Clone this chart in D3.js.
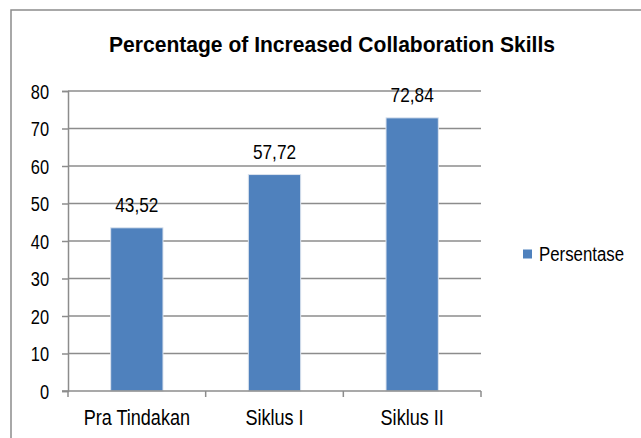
<!DOCTYPE html>
<html>
<head>
<meta charset="utf-8">
<script src="https://cdn.jsdelivr.net/npm/d3@7"></script>
<style>
  body { margin: 0; background: #fff; }
  svg text { font-family: "Liberation Sans Narrow", "Arial Narrow", "Liberation Sans", Arial, sans-serif; fill: #000; }
</style>
</head>
<body>
<div id="chart"></div>
<script>
var width = 641,
    height = 438;

var categories = ["Pra Tindakan", "Siklus I", "Siklus II"];
var values = [43.52, 57.72, 72.84];
var valueLabels = ["43,52", "57,72", "72,84"];
var yTicks = [0, 10, 20, 30, 40, 50, 60, 70, 80];
var seriesName = "Persentase";
var title = "Percentage of Increased Collaboration Skills";

var plot = {left: 68, right: 481, top: 91, bottom: 391};
var narrow = 0.82; // squeeze regular sans into an "Arial Narrow" look

// squeeze text horizontally
function condense(sel, k) {
  sel.each(function() {
    var len = this.getComputedTextLength();
    d3.select(this)
      .attr("textLength", len * k)
      .attr("lengthAdjust", "spacingAndGlyphs");
  });
}

var svg = d3.select("#chart").append("svg")
    .attr("width", width)
    .attr("height", height);

// outer chart frame (cut off at right and bottom)
svg.append("rect")
    .attr("x", 11)
    .attr("y", 10)
    .attr("width", width + 20)
    .attr("height", height + 20)
    .attr("fill", "none")
    .attr("stroke", "#8c8c8c")
    .attr("stroke-width", 1.5);

svg.append("text")
    .attr("x", 332)
    .attr("y", 52)
    .attr("text-anchor", "middle")
    .style("font-size", "22px")
    .style("font-weight", "bold")
    .attr("textLength", 446)
    .attr("lengthAdjust", "spacingAndGlyphs")
    .text(title);

var x = d3.scaleBand()
    .domain(categories)
    .range([plot.left, plot.right])
    .paddingInner(0.62)
    .paddingOuter(0.31);

var y = d3.scaleLinear()
    .domain([0, 80])
    .range([plot.bottom, plot.top]);

// gridlines
svg.selectAll("line.grid")
    .data(yTicks.filter(function(d) { return d > 0; }))
  .enter().append("line")
    .attr("class", "grid")
    .attr("x1", plot.left)
    .attr("x2", plot.right)
    .attr("y1", function(d) { return y(d); })
    .attr("y2", function(d) { return y(d); })
    .attr("stroke", "#8c8c8c")
    .attr("stroke-width", 1.5);

// y axis
var yAxis = svg.append("g")
    .attr("transform", "translate(" + plot.left + ",0)")
    .call(d3.axisLeft(y).tickValues(yTicks).tickSize(6).tickPadding(13));
yAxis.selectAll("text")
    .style("font-size", "20px")
    .attr("dy", "0.36em")
    .call(condense, narrow);
yAxis.selectAll("line, path").attr("stroke", "#8c8c8c").attr("stroke-width", 1.5);

// bars with slight light edge
svg.selectAll("rect.bar")
    .data(values)
  .enter().append("rect")
    .attr("class", "bar")
    .attr("x", function(d, i) { return x(categories[i]); })
    .attr("y", function(d) { return y(d); })
    .attr("width", x.bandwidth())
    .attr("height", function(d) { return y(0) - y(d); })
    .attr("fill", "#4f81bd")
    .attr("stroke", "#dbe3ee")
    .attr("stroke-width", 1);

svg.selectAll("text.val")
    .data(values)
  .enter().append("text")
    .attr("class", "val")
    .attr("x", function(d, i) { return x(categories[i]) + x.bandwidth() / 2; })
    .attr("y", function(d) { return y(d) - 16; })
    .attr("text-anchor", "middle")
    .style("font-size", "21px")
    .text(function(d, i) { return valueLabels[i]; })
    .call(condense, narrow);

// x axis
var xAxis = svg.append("g")
    .attr("transform", "translate(0," + plot.bottom + ")")
    .call(d3.axisBottom(x).tickSize(0).tickPadding(0));
xAxis.select(".domain").remove();
xAxis.selectAll("text")
    .attr("dy", null)
    .attr("y", 34)
    .style("font-size", "22px")
    .call(condense, narrow);

svg.append("line")
    .attr("x1", plot.left - 6)
    .attr("x2", plot.right)
    .attr("y1", plot.bottom)
    .attr("y2", plot.bottom)
    .attr("stroke", "#8c8c8c")
    .attr("stroke-width", 1.5);

var bounds = [plot.left, plot.left + x.step(), plot.left + 2 * x.step(), plot.right];
svg.selectAll("line.xtick")
    .data(bounds)
  .enter().append("line")
    .attr("class", "xtick")
    .attr("x1", function(d) { return d; })
    .attr("x2", function(d) { return d; })
    .attr("y1", plot.bottom)
    .attr("y2", plot.bottom + 6)
    .attr("stroke", "#8c8c8c")
    .attr("stroke-width", 1.5);

// legend
svg.append("rect")
    .attr("x", 523)
    .attr("y", 249.5)
    .attr("width", 9)
    .attr("height", 9)
    .attr("fill", "#4f81bd");
svg.append("text")
    .attr("x", 539)
    .attr("y", 261)
    .style("font-size", "20px")
    .text(seriesName)
    .call(condense, 0.84);
</script>
</body>
</html>
